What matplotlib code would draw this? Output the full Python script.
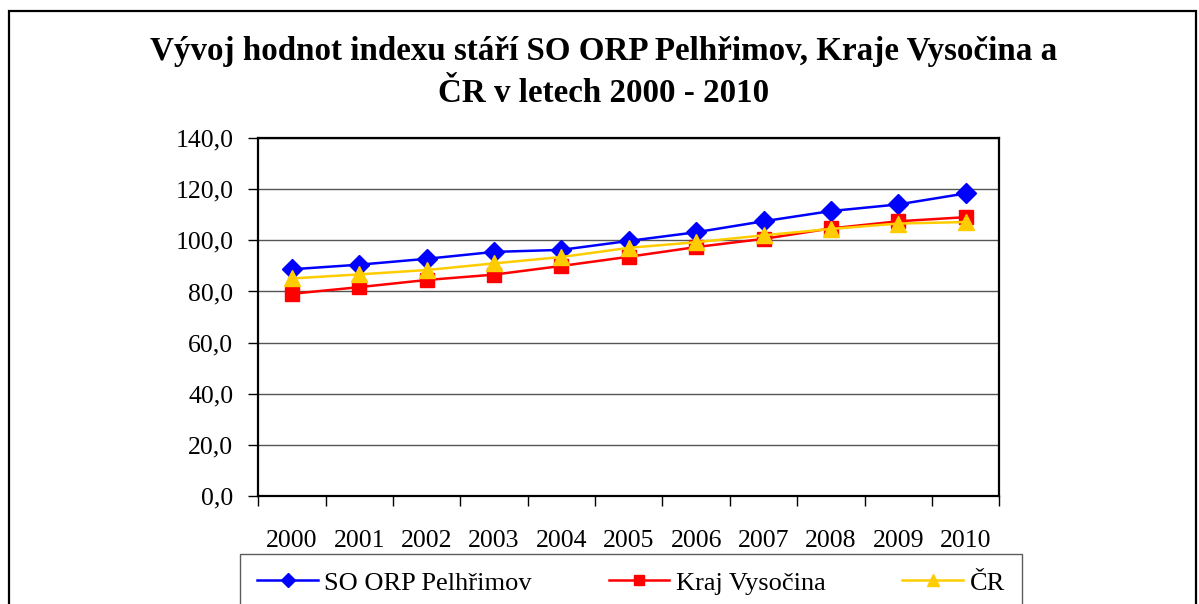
import matplotlib
matplotlib.use('Agg')
import matplotlib.pyplot as plt
from matplotlib.patches import Rectangle
from matplotlib.ticker import FuncFormatter, FixedLocator

years = ['2000', '2001', '2002', '2003', '2004', '2005', '2006', '2007', '2008', '2009', '2010']
so_orp = [88.7, 90.5, 92.8, 95.5, 96.3, 99.8, 103.2, 107.5, 111.5, 114.1, 118.4]
kraj = [79.1, 81.7, 84.5, 86.6, 90.0, 93.6, 97.4, 100.6, 104.7, 107.5, 109.1]
cr = [85.1, 86.7, 88.4, 91.0, 93.5, 97.1, 99.3, 102.0, 104.5, 106.6, 107.2]
labels = ['SO ORP Pelhřimov', 'Kraj Vysočina', 'ČR']
title = 'Vývoj hodnot indexu stáří SO ORP Pelhřimov, Kraje Vysočina a\nČR v letech 2000 - 2010'

plt.rcParams['font.family'] = ['Liberation Serif', 'DejaVu Serif']

W, H = 1199, 604
fig = plt.figure(figsize=(W / 100, H / 100), dpi=100, facecolor='white')

# outer chart border
fig.patches.append(Rectangle((9 / W, -0.05), (1196 - 9) / W, 1 - 11 / H + 0.05,
                             transform=fig.transFigure, fill=False,
                             edgecolor='black', lw=1.6, clip_on=False))

left, right, top, bottom = 258.3, 999.3, 138.3, 495.7
ax = fig.add_axes([left / W, 1 - bottom / H, (right - left) / W, (bottom - top) / H])

x = list(range(len(years)))
ax.plot(x, so_orp, color='#0000FF', lw=1.8, marker='D', ms=10, label=labels[0], zorder=3)
ax.plot(x, kraj, color='#FF0000', lw=1.8, marker='s', ms=9.5, label=labels[1], zorder=4)
ax.plot(x, cr, color='#FFCC00', lw=1.8, marker='^', ms=11.5, label=labels[2], zorder=5)

ax.set_xlim(-0.5, len(years) - 0.5)
ax.set_ylim(0, 140)
ax.set_yticks(range(0, 141, 20))
ax.yaxis.set_major_formatter(FuncFormatter(lambda v, p: f'{v:.1f}'.replace('.', ',')))
ax.grid(axis='y', color='#555555', lw=1.0)
ax.set_axisbelow(True)

ax.set_xticks(x)
ax.set_xticklabels(years)
ax.xaxis.set_minor_locator(FixedLocator([i - 0.5 for i in range(len(years) + 1)]))
ax.tick_params(axis='x', which='major', length=0, pad=25, labelsize=18.5)
ax.tick_params(axis='x', which='minor', length=7, width=1, direction='out')
ax.tick_params(axis='y', length=7, width=1, pad=11, labelsize=18.5)

for s in ax.spines.values():
    s.set_linewidth(1.6)

fig.text(604 / W, 1 - 72.5 / H, title, ha='center', va='center', fontsize=23.8,
         fontweight='bold', linespacing=1.45)

leg = fig.legend(loc='upper left', bbox_to_anchor=(240 / W, 1 - 554 / H),
                 bbox_transform=fig.transFigure, ncol=3,
                 fontsize=19, frameon=True, fancybox=False, edgecolor='#333333',
                 handlelength=2.3, markerscale=0.75, columnspacing=2.9,
                 borderpad=0.65, handletextpad=0.25, borderaxespad=0)
leg.get_frame().set_linewidth(1.0)

fig.savefig('out.png', dpi=100, facecolor='white')
